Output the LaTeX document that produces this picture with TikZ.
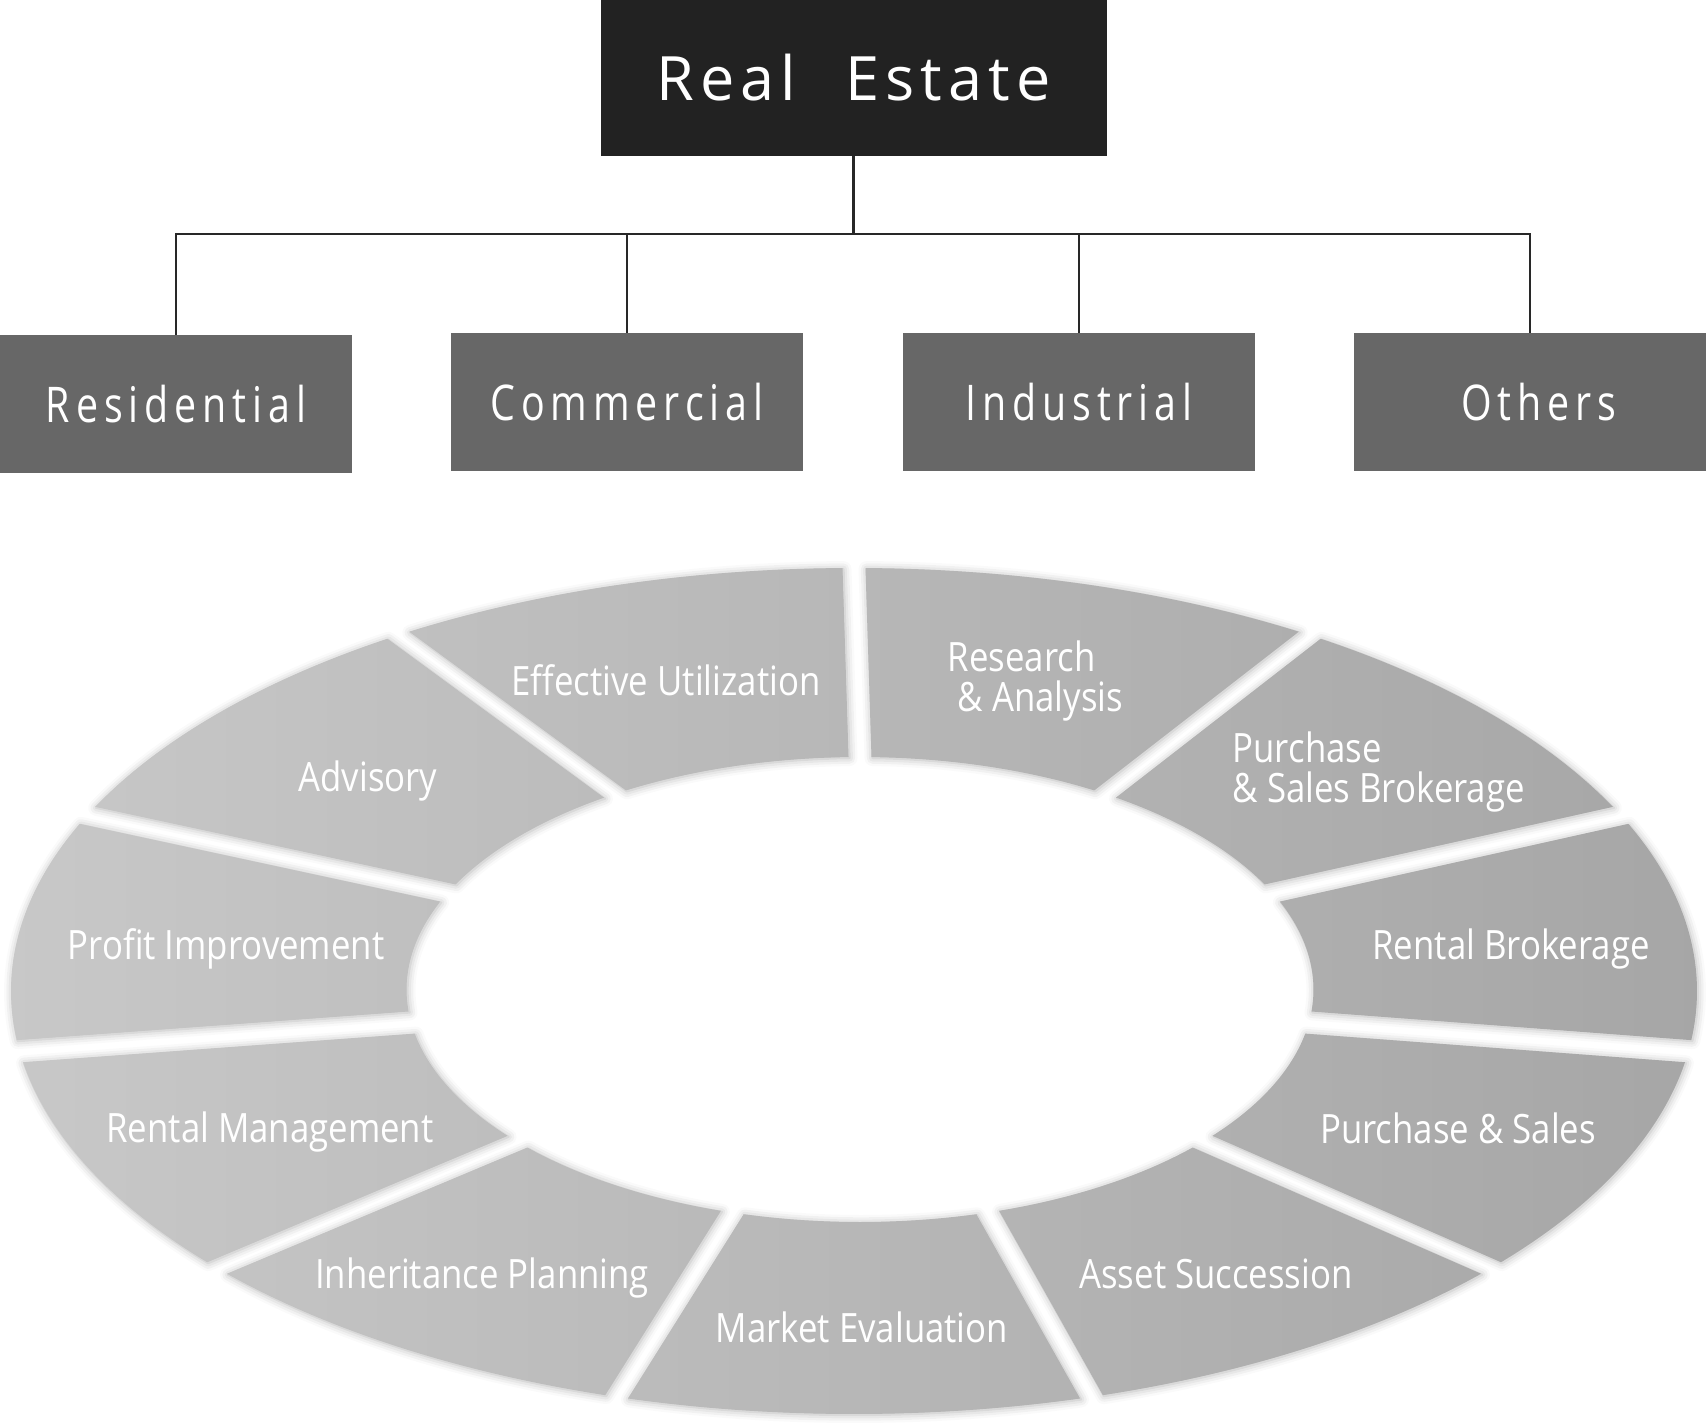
\documentclass[tikz,border=0pt]{standalone}
\usepackage{fontspec}
\setmainfont{Open Sans}
\newfontfamily\headfont[LetterSpace=10]{Open Sans}
\newfontfamily\catfont[FakeStretch=0.8,LetterSpace=12]{Open Sans}
\newfontfamily\ringfont[FakeStretch=0.86]{Open Sans}
\usetikzlibrary{shadows.blur}
\definecolor{headgray}{RGB}{34,34,34}
\definecolor{catgray}{RGB}{103,103,103}
\definecolor{ringleft}{RGB}{200,200,200}
\definecolor{ringright}{RGB}{166,166,166}
\definecolor{linegray}{RGB}{40,40,40}

\begin{document}
\begin{tikzpicture}[
    every node/.style={text=white, inner sep=0pt},
    head/.style={fill=headgray, minimum width=5.06cm, minimum height=1.556cm,
        font=\headfont\fontsize{17.4}{20}\selectfont},
    cat/.style={fill=catgray, minimum width=3.515cm, minimum height=1.37cm,
        font=\catfont\fontsize{14}{16}\selectfont},
    link/.style={draw=linegray, line width=0.6pt},
    seg/.style={left color=ringleft, right color=ringright,
        blur shadow={shadow xshift=0.1mm, shadow yshift=-0.1mm,
            shadow blur radius=0.8mm, shadow opacity=30}},
    tag/.style={font=\ringfont\fontsize{11.5}{11.2}\selectfont, align=left},
    declare function={dO(\x)=\gap/sqrt((\oa*sin(\x))^2+(\ob*cos(\x))^2)*57.2958;
                      dI(\x)=\gap/sqrt((\ia*sin(\x))^2+(\ib*cos(\x))^2)*57.2958;}
]
\useasboundingbox (0,0) rectangle (17.06,14.22);

% Category tree
\node[head] (estate) at (8.535,13.44) {Real \hspace{0.45em}Estate};
\node[cat] (res) at (1.76,10.18) {Residential};
\node[cat] (com) at (6.27,10.20) {Commercial};
\node[cat] (ind) at (10.79,10.20) {Industrial};
\node[cat] (oth) at (15.30,10.20) {\hspace{0.18cm}Others};
\coordinate (bus) at (8.535,11.88);
\draw[link] (estate) -- (bus);
\foreach \n in {res,com,ind,oth}
    \draw[link] (bus) -| (\n);

% Service ring
\def\ox{8.54}\def\oy{4.31}\def\oa{8.43}\def\ob{4.23}
\def\ix{8.60}\def\iy{4.325}\def\ia{4.535}\def\ib{2.325}
\def\gap{0.115}
\shade[seg] foreach \k [evaluate=\k as \ta using 90+\k*360/11,
                        evaluate=\k as \tb using 90+(\k+1)*360/11] in {0,...,10} {
    ({\ox+\oa*cos(\ta+dO(\ta))},{\oy+\ob*sin(\ta+dO(\ta))})
    arc[start angle={\ta+dO(\ta)}, end angle={\tb-dO(\tb)}, x radius=\oa cm, y radius=\ob cm]
    -- ({\ix+\ia*cos(\tb-dI(\tb))},{\iy+\ib*sin(\tb-dI(\tb))})
    arc[start angle={\tb-dI(\tb)}, end angle={\ta+dI(\ta)}, x radius=\ia cm, y radius=\ib cm]
    -- cycle
};

% Ring labels
\node[tag] (util) at (6.66,7.42) {Effective Utilization};
\node[tag, anchor=west] (research) at (9.47,7.41) {Research\\\hspace{0.25em}\& Analysis};
\node[tag] (advisory) at (3.68,6.41) {Advisory};
\node[tag, anchor=west] (psbroker) at (12.32,6.50) {Purchase\\\& Sales Brokerage};
\node[tag] (profit) at (2.26,4.73) {Profit Improvement};
\node[tag] (rbroker) at (15.11,4.73) {Rental Brokerage};
\node[tag] (rentmgmt) at (2.70,2.90) {Rental Management};
\node[tag] (psales) at (14.58,2.94) {Purchase \& Sales};
\node[tag] (inherit) at (4.82,1.44) {Inheritance Planning};
\node[tag] (asset) at (12.16,1.48) {Asset Succession};
\node[tag] (market) at (8.62,0.95) {Market Evaluation};
\end{tikzpicture}
\end{document}
